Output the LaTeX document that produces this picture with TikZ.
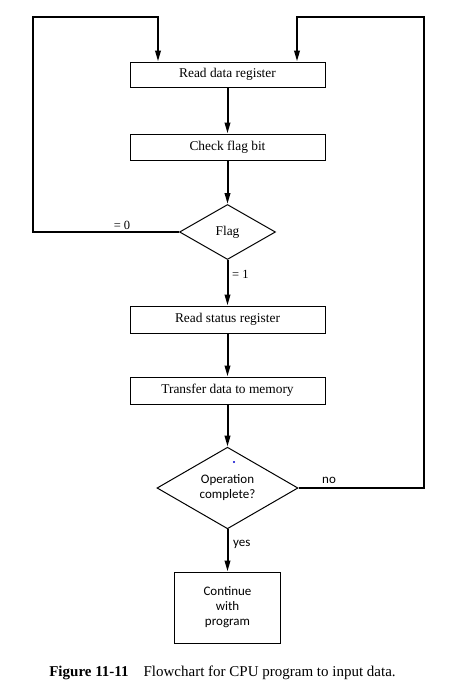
\documentclass[tikz,border=0pt]{standalone}
\usepackage{fontspec}
\setmainfont{Liberation Serif}
\newfontfamily\lowfont{Carlito}
\usetikzlibrary{arrows.meta,shapes.geometric}
\begin{document}
\begin{tikzpicture}[x=1pt,y=-1pt,
  box/.style={draw=black,line width=1pt,rectangle,inner sep=0pt,align=center,font=\fontsize{13.4}{15}\selectfont},
  dia/.style={draw=black,line width=1pt,diamond,inner sep=0pt,align=center},
  conn/.style={line width=2pt,line join=miter},
  arr/.style={conn,-{Triangle[length=11pt,width=5.5pt]}},
  lbl/.style={inner sep=0pt,font=\fontsize{12.5}{14}\selectfont}]
\useasboundingbox[fill=white] (0,0) rectangle (457,696);
% boxes
\node[box,minimum width=195pt,minimum height=25pt] (rd) at (227.5,74.5) {Read data register};
\node[box,minimum width=195pt,minimum height=26pt] (cf) at (227.5,147) {Check flag bit};
\node[dia,minimum width=96pt,minimum height=55pt,font=\fontsize{13.4}{15}\selectfont] (flag) at (227.5,232) {Flag};
\node[box,minimum width=195pt,minimum height=27pt] (rs) at (227.5,319.5) {Read status register};
\node[box,minimum width=195pt,minimum height=27pt] (tr) at (227.5,390.5) {Transfer data to memory};
\node[dia,minimum width=141pt,minimum height=80pt,font=\lowfont\fontsize{13}{15}\selectfont] (op) at (227.5,488) {Operation\\complete?};
\node[box,minimum width=106pt,minimum height=71pt,font=\lowfont\fontsize{13}{15}\selectfont] (cont) at (227.5,607.5) {Continue\\with\\program};
% straight connectors
\draw[arr] (rd.south) -- (cf.north);
\draw[arr] (cf.south) -- (flag.north);
\draw[arr] (flag.south) -- (rs.north);
\draw[arr] (rs.south) -- (tr.north);
\draw[arr] (tr.south) -- (op.north);
\draw[arr] (op.south) -- (cont.north);
% loops
\coordinate (lA) at (33,232);
\coordinate (lB) at (33,17);
\coordinate (lC) at (158,17);
\draw[arr] (flag.west) -- (lA) -- (lB) -- (lC) -- (lC |- rd.north);
\coordinate (rA) at (424,488);
\coordinate (rB) at (424,17);
\coordinate (rC) at (297,17);
\draw[arr] (op.east) -- (rA) -- (rB) -- (rC) -- (rC |- rd.north);
% labels
\node[lbl] (l0) at (122,225) {= 0};
\node[lbl,anchor=west] (l1) at (232,274) {= 1};
\node[lbl,anchor=west,font=\lowfont\fontsize{13}{14}\selectfont] (lno) at (322,480) {no};
\node[lbl,anchor=west,font=\lowfont\fontsize{13}{14}\selectfont] (lyes) at (233,544) {yes};
% scan speck
\fill[blue!80!black] (234,462) ellipse (1.2pt and 1pt);
% caption
\node[inner sep=0pt,font=\fontsize{15}{17}\selectfont] (cap) at (222.5,673) {\textbf{Figure 11-11}\hspace{1em}Flowchart for CPU program to input data.};
\end{tikzpicture}
\end{document}
